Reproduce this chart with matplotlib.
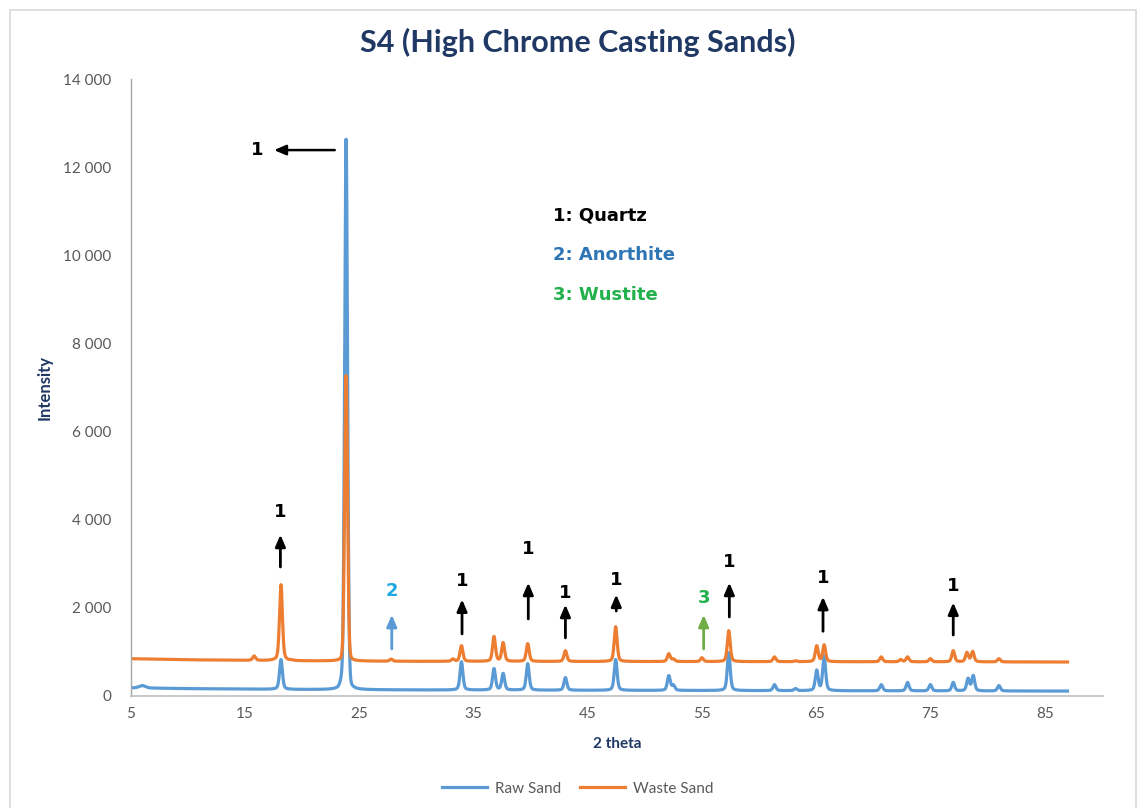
import numpy as np
import matplotlib
matplotlib.use("Agg")
import matplotlib.pyplot as plt
from matplotlib.patches import Rectangle
from matplotlib.ticker import FuncFormatter, FixedLocator

plt.rcParams['font.family'] = ['Lato', 'DejaVu Sans']

# --- background levels (2theta, intensity) ---
raw_bg_x = [5, 6, 10, 20, 30, 50, 70, 87]
raw_bg_y = [175, 175, 160, 140, 130, 120, 110, 105]
waste_bg_x = [5, 10, 20, 30, 50, 70, 87]
waste_bg_y = [840, 815, 790, 780, 775, 770, 765]

# --- Raw Sand peaks: position (2theta), peak intensity ---
raw_pos = [6.0, 18.15, 23.45, 23.85, 33.95, 36.8, 37.6, 39.75, 43.05, 47.45, 52.1, 52.5,
           57.35, 61.35, 63.2, 65.05, 65.7, 70.7, 73.0, 75.0, 77.0, 78.3, 78.75, 81.0]
raw_int = [230, 820, 260, 12630, 770, 610, 500, 725, 410, 820, 450, 230,
           975, 250, 160, 570, 900, 250, 300, 250, 300, 385, 450, 230]

# --- Waste Sand peaks: position (2theta), peak intensity ---
waste_pos = [15.8, 18.15, 19.1, 23.85, 27.8, 33.2, 33.95, 36.8, 37.6, 39.75, 43.05,
             47.45, 52.1, 52.5, 55.0, 57.35, 61.35, 63.2, 65.05, 65.7, 70.7, 72.4,
             73.0, 75.0, 77.0, 78.2, 78.7, 81.0]
waste_int = [900, 2520, 800, 7270, 830, 830, 1135, 1340, 1200, 1180, 1020,
             1565, 950, 830, 860, 1475, 880, 790, 1130, 1150, 880, 820,
             880, 840, 1020, 975, 1000, 840]

# --- phase markers: (2theta, arrow start, arrow end, label y, phase) ---
mark_x = [18.1, 27.85, 34.0, 39.8, 43.05, 47.5, 55.15, 57.4, 65.6, 77.0]
mark_y0 = [2860, 1000, 1340, 1680, 1250, 1860, 1000, 1725, 1400, 1315]
mark_y1 = [3720, 1900, 2250, 2630, 2130, 2360, 1900, 2630, 2310, 2180]
mark_ty = [4175, 2380, 2610, 3340, 2340, 2630, 2220, 3040, 2680, 2500]
mark_ph = ['1', '2', '1', '1', '1', '1', '3', '1', '1', '1']

phase_names = ['1: Quartz', '2: Anorthite', '3: Wustite']
phase_text_colors = ['#000000', '#2E75B6', '#22B04B']
label_colors = {'1': '#000000', '2': '#1FA9E1', '3': '#22B04B'}
arrow_colors = {'1': '#000000', '2': '#5B9BD5', '3': '#70AD47'}

x_ticks = [5, 15, 25, 35, 45, 55, 65, 75, 85]
y_ticks = [0, 2000, 4000, 6000, 8000, 10000, 12000, 14000]

BLUE = '#5B9BD5'
ORANGE = '#ED7D31'
NAVY = '#1F3864'
GREY = '#595959'
MARK_FONT = ['DejaVu Sans']


def profile(x, bg_x, bg_y, pos, inten, fwhm=0.30):
    bg = np.interp(x, bg_x, bg_y)
    y = bg.copy()
    hw = fwhm / 2.0
    for c, h in zip(pos, inten):
        amp = h - np.interp(c, bg_x, bg_y)
        w = hw * (2.2 if c < 7 else 1.0)
        # strong lines get a sharper, mostly Gaussian shape
        eta = 0.12 if amp > 3000 else 0.4
        lor = 1.0 / (1.0 + ((x - c) / w) ** 2)
        gau = np.exp(-np.log(2) * ((x - c) / w) ** 2)
        y += amp * (eta * lor + (1 - eta) * gau)
    return y


two_theta = np.arange(5.0, 87.0001, 0.01)
raw = profile(two_theta, raw_bg_x, raw_bg_y, raw_pos, raw_int)
waste = profile(two_theta, waste_bg_x, waste_bg_y, waste_pos, waste_int)

fig = plt.figure(figsize=(11.37, 8.08), dpi=100)

# chart border
fig.patches.append(Rectangle((9.5 / 1137, -0.02), 1126 / 1137, 1.02 - 10 / 808,
                             transform=fig.transFigure, fill=False,
                             edgecolor='#D9D9D9', lw=1.2))

ax = fig.add_axes([0.115, 0.139, 0.855, 0.763])

ax.plot(two_theta, raw, color=BLUE, lw=2.3, label='Raw Sand', solid_joinstyle='round')
ax.plot(two_theta, waste, color=ORANGE, lw=2.3, label='Waste Sand', solid_joinstyle='round')

ax.set_xlim(5, 90.1)
ax.set_ylim(0, 14000)
ax.xaxis.set_major_locator(FixedLocator(x_ticks))
ax.yaxis.set_major_locator(FixedLocator(y_ticks))
ax.yaxis.set_major_formatter(FuncFormatter(lambda v, p: f"{int(v):,}".replace(',', ' ')))
ax.tick_params(axis='both', length=0, labelsize=11, colors=GREY, pad=8)
ax.tick_params(axis='y', pad=14)

for s in ['top', 'right']:
    ax.spines[s].set_visible(False)
ax.spines['left'].set_color('#A6A6A6')
ax.spines['bottom'].set_color('#BFBFBF')
ax.spines['left'].set_linewidth(1.0)
ax.spines['bottom'].set_linewidth(1.2)

ax.set_xlabel('2 theta', fontsize=11, fontweight='bold', color=NAVY, labelpad=12)
ax.set_ylabel('Intensity', fontsize=12, fontweight='bold', color=NAVY)
ax.yaxis.set_label_coords(-0.08, 0.5)

fig.text(0.508, 0.948, 'S4 (High Chrome Casting Sands)', ha='center', va='center',
         fontsize=22, fontweight='bold', color=NAVY)

# left-pointing marker for the main quartz peak
ax.annotate('', xy=(17.3, 12390), xytext=(23.1, 12390),
            arrowprops=dict(arrowstyle='-|>,head_length=0.7,head_width=0.3',
                            color='black', lw=1.8))
ax.text(16.1, 12390, '1', ha='center', va='center', fontsize=13,
        fontweight='bold', color='black', family=MARK_FONT)

for mx, y0, y1, ty, ph in zip(mark_x, mark_y0, mark_y1, mark_ty, mark_ph):
    ax.annotate('', xy=(mx, y1), xytext=(mx, y0),
                arrowprops=dict(arrowstyle='-|>,head_length=0.7,head_width=0.3',
                                color=arrow_colors[ph], lw=2.0))
    ax.text(mx, ty, ph, ha='center', va='center', fontsize=13,
            fontweight='bold', color=label_colors[ph], family=MARK_FONT)

for i, (name, col) in enumerate(zip(phase_names, phase_text_colors)):
    ax.text(42.0, 10915 - i * 908, name, ha='left', va='center', fontsize=13,
            fontweight='bold', color=col, family=MARK_FONT)

leg = fig.legend(loc='center', bbox_to_anchor=(0.508, 0.024), ncol=2, frameon=False,
                 fontsize=11, handlelength=3.0, columnspacing=1.2, handletextpad=0.5)
for t in leg.get_texts():
    t.set_color(GREY)

fig.savefig('out.png', dpi=100)
